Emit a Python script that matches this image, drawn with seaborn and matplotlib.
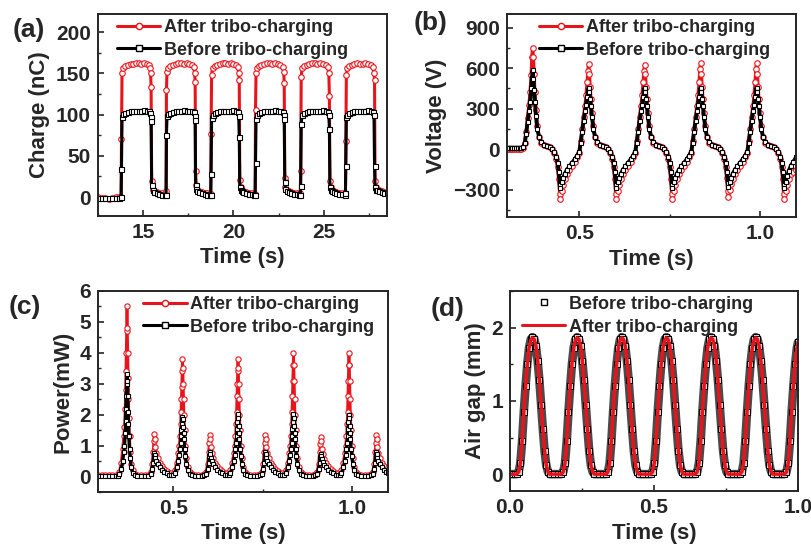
import matplotlib
matplotlib.use("Agg")
import matplotlib.pyplot as plt
import seaborn as sns
import pandas as pd
from matplotlib.lines import Line2D
from matplotlib.ticker import MultipleLocator, FormatStrFormatter

# ---------------- data ----------------
# (a) transferred charge vs time
t_a = [12.5, 12.7, 12.9, 13.1, 13.3, 13.5, 13.65,
       13.78, 13.80, 13.83, 13.88, 14.0, 14.15, 14.3, 14.45, 14.6, 14.75, 14.9, 15.05, 15.2, 15.32, 15.38, 15.41, 15.44, 15.47, 15.52, 15.6, 15.75, 15.9, 16.05, 16.2,
       16.27, 16.29, 16.32, 16.37, 16.5, 16.65, 16.8, 16.95, 17.1, 17.25, 17.4, 17.55, 17.7, 17.8, 17.85, 17.88, 17.9, 17.94, 18.0, 18.1, 18.25, 18.4, 18.55, 18.7,
       18.74, 18.76, 18.79, 18.84, 18.95, 19.1, 19.25, 19.4, 19.55, 19.7, 19.85, 20.0, 20.15, 20.25, 20.29, 20.32, 20.35, 20.39, 20.45, 20.55, 20.7, 20.85, 21.0, 21.15,
       21.20, 21.22, 21.25, 21.3, 21.4, 21.55, 21.7, 21.85, 22.0, 22.15, 22.3, 22.45, 22.6, 22.72, 22.78, 22.81, 22.84, 22.88, 22.95, 23.05, 23.2, 23.35, 23.5, 23.65,
       23.70, 23.72, 23.75, 23.8, 23.9, 24.05, 24.2, 24.35, 24.5, 24.65, 24.8, 24.95, 25.1, 25.22, 25.28, 25.31, 25.34, 25.38, 25.45, 25.55, 25.7, 25.85, 26.0, 26.15,
       26.20, 26.22, 26.25, 26.3, 26.4, 26.55, 26.7, 26.85, 27.0, 27.15, 27.3, 27.45, 27.6, 27.72, 27.78, 27.81, 27.84, 27.88, 27.95, 28.05, 28.2, 28.35, 28.5]
q_after = [0, -1, -1, -2, -1, 0, 0,
           0, 70, 150, 157, 159, 160, 161, 161, 162, 162, 161, 162, 161, 160, 156, 150, 134, 20, 9, 7, 6, 5, 5, 4,
           7, 130, 152, 157, 159, 160, 161, 162, 162, 161, 162, 161, 160, 158, 150, 140, 32, 15, 9, 7, 6, 5, 5, 4,
           4, 77, 148, 156, 159, 160, 161, 162, 162, 161, 162, 161, 160, 158, 150, 142, 21, 12, 9, 7, 6, 5, 5, 4,
           4, 106, 150, 156, 159, 160, 161, 162, 162, 161, 162, 161, 160, 158, 152, 138, 23, 12, 9, 7, 6, 5, 5, 4,
           5, 31, 146, 156, 159, 160, 161, 162, 162, 161, 162, 161, 160, 158, 150, 122, 19, 12, 9, 7, 6, 5, 5, 4,
           5, 68, 148, 156, 159, 160, 161, 162, 161, 161, 162, 161, 160, 158, 150, 142, 19, 12, 9, 8, 7, 6, 5]
q_before = [-1, -1, -1, -1, -1, -1, -1,
            0, 34, 97, 101, 102, 103, 104, 104, 104, 104, 104, 105, 104, 104, 102, 97, 92, 15, 9, 6, 5, 4, 3, 2,
            2, 75, 98, 101, 102, 103, 104, 104, 104, 105, 104, 104, 104, 103, 98, 93, 15, 10, 7, 6, 5, 4, 3, 3,
            3, 28, 96, 100, 102, 103, 104, 104, 104, 104, 104, 105, 104, 103, 98, 73, 12, 9, 7, 6, 5, 4, 4, 3,
            3, 41, 95, 100, 102, 103, 104, 104, 104, 104, 105, 104, 104, 103, 100, 95, 18, 10, 7, 6, 5, 4, 4, 3,
            3, 13, 89, 100, 102, 103, 104, 104, 104, 104, 104, 105, 104, 103, 99, 83, 12, 9, 7, 6, 5, 4, 4, 3,
            5, 38, 97, 100, 102, 103, 104, 104, 104, 104, 104, 105, 104, 103, 99, 38, 12, 9, 8, 7, 6, 5, 5]

# (b) open-circuit voltage vs time
t_b = [0.300, 0.305, 0.310, 0.315, 0.320, 0.325, 0.330, 0.335, 0.340, 0.345,
       0.349, 0.353, 0.357, 0.361, 0.364, 0.367, 0.369, 0.371, 0.373, 0.375, 0.377, 0.380, 0.384, 0.389, 0.395, 0.402, 0.410, 0.418, 0.425, 0.431, 0.436, 0.440, 0.443, 0.446, 0.448, 0.451, 0.455, 0.460, 0.466, 0.473, 0.480, 0.487, 0.494, 0.500,
       0.504, 0.508, 0.512, 0.516, 0.519, 0.522, 0.524, 0.526, 0.528, 0.530, 0.532, 0.535, 0.539, 0.544, 0.550, 0.557, 0.565, 0.573, 0.580, 0.586, 0.591, 0.595, 0.598, 0.601, 0.603, 0.606, 0.610, 0.615, 0.621, 0.628, 0.635, 0.642, 0.649, 0.655,
       0.659, 0.663, 0.667, 0.671, 0.674, 0.677, 0.679, 0.681, 0.683, 0.685, 0.687, 0.690, 0.694, 0.699, 0.705, 0.712, 0.720, 0.728, 0.735, 0.741, 0.746, 0.750, 0.753, 0.756, 0.758, 0.761, 0.765, 0.770, 0.776, 0.783, 0.790, 0.797, 0.804, 0.810,
       0.814, 0.818, 0.822, 0.826, 0.829, 0.832, 0.834, 0.836, 0.838, 0.840, 0.842, 0.845, 0.849, 0.854, 0.860, 0.867, 0.875, 0.883, 0.890, 0.896, 0.901, 0.905, 0.908, 0.911, 0.913, 0.916, 0.920, 0.925, 0.931, 0.938, 0.945, 0.952, 0.959, 0.965,
       0.969, 0.973, 0.977, 0.981, 0.984, 0.987, 0.989, 0.991, 0.993, 0.995, 0.997, 1.000, 1.004, 1.009, 1.015, 1.022, 1.030, 1.038, 1.045, 1.051, 1.056, 1.060, 1.063, 1.066, 1.068, 1.071, 1.075, 1.080, 1.086, 1.093, 1.100]
v_after = [5, 5, 5, 5, 5, 5, 5, 5, 5, 10,
           50, 130, 230, 330, 420, 550, 680, 750, 680, 560, 420, 290, 170, 90, 50, 30, 22, 15, 0, -30, -70, -130, -220, -330, -370, -310, -260, -220, -185, -150, -120, -90, -60, -30,
           60, 150, 240, 320, 400, 500, 580, 632, 560, 460, 370, 270, 170, 90, 50, 30, 22, 15, 0, -30, -70, -130, -220, -330, -365, -310, -260, -220, -185, -150, -120, -90, -60, -30,
           60, 150, 240, 320, 400, 500, 580, 622, 560, 460, 370, 270, 170, 90, 50, 30, 22, 15, 0, -30, -70, -130, -220, -330, -370, -310, -260, -220, -185, -150, -120, -90, -60, -30,
           60, 150, 240, 320, 400, 500, 590, 636, 560, 460, 370, 270, 170, 90, 50, 30, 22, 15, 0, -30, -70, -130, -210, -310, -355, -300, -255, -220, -185, -150, -120, -90, -60, -30,
           60, 150, 240, 320, 400, 500, 590, 636, 560, 460, 370, 270, 170, 90, 50, 30, 22, 15, 0, -30, -70, -130, -220, -330, -370, -310, -260, -220, -185, -165, -150]
v_before = [12, 12, 12, 12, 12, 12, 12, 12, 12, 15,
            45, 115, 200, 280, 350, 450, 530, 585, 520, 440, 350, 250, 150, 90, 55, 35, 28, 20, 5, -20, -55, -100, -170, -260, -285, -245, -215, -180, -150, -125, -100, -75, -50, -20,
            50, 130, 210, 280, 330, 390, 430, 453, 420, 370, 320, 240, 150, 90, 55, 35, 28, 20, 5, -20, -55, -100, -170, -260, -283, -245, -215, -180, -150, -125, -100, -75, -50, -20,
            50, 130, 210, 280, 330, 390, 440, 455, 420, 370, 320, 240, 150, 90, 55, 35, 28, 20, 5, -20, -55, -100, -170, -260, -285, -245, -215, -180, -150, -125, -100, -75, -50, -20,
            50, 130, 210, 280, 330, 390, 440, 455, 420, 370, 320, 240, 150, 90, 55, 35, 28, 20, 5, -20, -55, -100, -165, -250, -278, -240, -210, -180, -150, -125, -100, -75, -50, -20,
            50, 130, 210, 280, 330, 390, 440, 455, 420, 370, 320, 240, 150, 90, 55, 35, 28, 20, 5, -20, -55, -100, -170, -260, -285, -245, -200, -160, -120, -90, -60]

# (c) output power vs time
t_c = [0.29, 0.30, 0.31, 0.32, 0.33, 0.34, 0.345,
       0.350, 0.355, 0.359, 0.362, 0.364, 0.366, 0.367, 0.368, 0.369, 0.370, 0.371, 0.372, 0.373, 0.374, 0.375, 0.376, 0.378, 0.380, 0.383, 0.387, 0.393, 0.400, 0.410, 0.420, 0.430, 0.437,
       0.441, 0.444, 0.446, 0.447, 0.448, 0.450, 0.453, 0.457, 0.462, 0.468, 0.475, 0.482, 0.489, 0.495,
       0.500, 0.505, 0.510, 0.514, 0.517, 0.519, 0.521, 0.522, 0.523, 0.524, 0.525, 0.526, 0.527, 0.528, 0.529, 0.530, 0.532, 0.534, 0.537, 0.541, 0.546, 0.552, 0.560, 0.570, 0.580, 0.587, 0.592,
       0.596, 0.599, 0.601, 0.602, 0.603, 0.605, 0.608, 0.612, 0.617, 0.623, 0.630, 0.637, 0.644, 0.650,
       0.655, 0.660, 0.665, 0.669, 0.672, 0.674, 0.676, 0.677, 0.678, 0.679, 0.680, 0.681, 0.682, 0.683, 0.684, 0.685, 0.687, 0.689, 0.692, 0.696, 0.701, 0.707, 0.715, 0.725, 0.735, 0.742, 0.747,
       0.751, 0.754, 0.756, 0.757, 0.758, 0.760, 0.763, 0.767, 0.772, 0.778, 0.785, 0.792, 0.799, 0.805,
       0.810, 0.815, 0.820, 0.824, 0.827, 0.829, 0.831, 0.832, 0.833, 0.834, 0.835, 0.836, 0.837, 0.838, 0.839, 0.840, 0.842, 0.844, 0.847, 0.851, 0.856, 0.862, 0.870, 0.880, 0.890, 0.897, 0.902,
       0.906, 0.909, 0.911, 0.912, 0.913, 0.915, 0.918, 0.922, 0.927, 0.933, 0.940, 0.947, 0.954, 0.960,
       0.965, 0.970, 0.975, 0.979, 0.982, 0.984, 0.986, 0.987, 0.988, 0.989, 0.990, 0.991, 0.992, 0.993, 0.994, 0.995, 0.997, 0.999, 1.002, 1.006, 1.011, 1.017, 1.025, 1.035, 1.045, 1.052, 1.057,
       1.061, 1.064, 1.066, 1.067, 1.068, 1.070, 1.073, 1.077, 1.082, 1.088, 1.095, 1.100]
p_after = [0.05, 0.05, 0.05, 0.05, 0.05, 0.05, 0.05,
           0.15, 0.45, 0.9, 1.3, 1.6, 2.2, 2.8, 3.4, 4.0, 4.7, 5.5, 4.8, 4.0, 3.2, 2.5, 1.9, 1.3, 0.8, 0.4, 0.2, 0.08, 0.05, 0.05, 0.05, 0.06, 0.15,
           0.4, 0.8, 1.15, 1.39, 1.2, 0.95, 0.75, 0.6, 0.45, 0.35, 0.25, 0.18, 0.12, 0.1,
           0.08, 0.2, 0.45, 0.75, 1.0, 1.3, 1.7, 2.1, 2.5, 2.9, 3.4, 3.8, 3.5, 3.0, 2.5, 2.0, 1.5, 1.0, 0.6, 0.3, 0.15, 0.08, 0.05, 0.05, 0.05, 0.08, 0.15,
           0.4, 0.8, 1.1, 1.35, 1.2, 0.95, 0.75, 0.6, 0.45, 0.35, 0.25, 0.18, 0.12, 0.1,
           0.08, 0.2, 0.45, 0.75, 1.0, 1.3, 1.7, 2.1, 2.6, 3.0, 3.4, 3.8, 3.5, 3.0, 2.5, 2.0, 1.5, 1.0, 0.6, 0.3, 0.15, 0.08, 0.05, 0.05, 0.05, 0.08, 0.15,
           0.4, 0.8, 1.1, 1.35, 1.2, 0.95, 0.75, 0.6, 0.45, 0.35, 0.25, 0.18, 0.12, 0.1,
           0.08, 0.2, 0.45, 0.75, 1.0, 1.3, 1.7, 2.1, 2.6, 3.1, 3.6, 4.0, 3.6, 3.1, 2.5, 2.0, 1.5, 1.0, 0.6, 0.3, 0.15, 0.08, 0.05, 0.05, 0.05, 0.08, 0.15,
           0.4, 0.8, 1.05, 1.28, 1.15, 0.9, 0.72, 0.58, 0.45, 0.35, 0.25, 0.18, 0.12, 0.1,
           0.08, 0.2, 0.45, 0.75, 1.0, 1.3, 1.7, 2.1, 2.6, 3.1, 3.6, 4.0, 3.6, 3.1, 2.5, 2.0, 1.5, 1.0, 0.6, 0.3, 0.15, 0.08, 0.05, 0.05, 0.05, 0.08, 0.15,
           0.4, 0.8, 1.1, 1.35, 1.2, 0.95, 0.75, 0.6, 0.45, 0.35, 0.25, 0.2]
p_before = [0.02, 0.02, 0.02, 0.02, 0.02, 0.02, 0.02,
            0.08, 0.25, 0.5, 0.8, 1.0, 1.4, 1.8, 2.2, 2.6, 3.0, 3.3, 3.1, 2.6, 2.1, 1.7, 1.3, 0.9, 0.6, 0.3, 0.12, 0.05, 0.02, 0.02, 0.02, 0.03, 0.08,
            0.25, 0.45, 0.65, 0.75, 0.7, 0.6, 0.5, 0.4, 0.3, 0.22, 0.15, 0.1, 0.06, 0.05,
            0.04, 0.12, 0.3, 0.5, 0.7, 0.9, 1.1, 1.3, 1.5, 1.7, 1.85, 1.93, 1.85, 1.6, 1.4, 1.2, 0.9, 0.65, 0.4, 0.2, 0.08, 0.04, 0.02, 0.02, 0.02, 0.04, 0.08,
            0.25, 0.45, 0.65, 0.78, 0.72, 0.6, 0.5, 0.4, 0.3, 0.22, 0.15, 0.1, 0.06, 0.05,
            0.04, 0.12, 0.3, 0.5, 0.7, 0.9, 1.1, 1.3, 1.55, 1.75, 1.9, 2.02, 1.9, 1.65, 1.4, 1.2, 0.9, 0.65, 0.4, 0.2, 0.08, 0.04, 0.02, 0.02, 0.02, 0.04, 0.08,
            0.25, 0.45, 0.65, 0.78, 0.72, 0.6, 0.5, 0.4, 0.3, 0.22, 0.15, 0.1, 0.06, 0.05,
            0.04, 0.12, 0.3, 0.5, 0.7, 0.9, 1.1, 1.3, 1.55, 1.75, 1.9, 2.02, 1.9, 1.65, 1.4, 1.2, 0.9, 0.65, 0.4, 0.2, 0.08, 0.04, 0.02, 0.02, 0.02, 0.04, 0.08,
            0.25, 0.45, 0.62, 0.72, 0.68, 0.58, 0.48, 0.38, 0.3, 0.22, 0.15, 0.1, 0.06, 0.05,
            0.04, 0.12, 0.3, 0.5, 0.7, 0.9, 1.1, 1.3, 1.55, 1.75, 1.9, 2.0, 1.9, 1.65, 1.4, 1.2, 0.9, 0.65, 0.4, 0.2, 0.08, 0.04, 0.02, 0.02, 0.02, 0.04, 0.08,
            0.25, 0.45, 0.65, 0.8, 0.72, 0.6, 0.5, 0.4, 0.3, 0.22, 0.15, 0.12]

# (d) air gap vs time
t_d = [0.000, 0.008, 0.016,
       0.023, 0.030, 0.036, 0.042, 0.048, 0.054, 0.060, 0.066, 0.072, 0.078, 0.084, 0.090, 0.096, 0.102, 0.108, 0.114, 0.120, 0.126, 0.132, 0.138, 0.153, 0.168,
       0.178, 0.185, 0.191, 0.197, 0.203, 0.209, 0.215, 0.221, 0.227, 0.233, 0.239, 0.245, 0.251, 0.257, 0.263, 0.269, 0.275, 0.281, 0.287, 0.293, 0.308, 0.323,
       0.333, 0.340, 0.346, 0.352, 0.358, 0.364, 0.370, 0.376, 0.382, 0.388, 0.394, 0.400, 0.406, 0.412, 0.418, 0.424, 0.430, 0.436, 0.442, 0.448, 0.463, 0.478,
       0.488, 0.495, 0.501, 0.507, 0.513, 0.519, 0.525, 0.531, 0.537, 0.543, 0.549, 0.555, 0.561, 0.567, 0.573, 0.579, 0.585, 0.591, 0.597, 0.603, 0.618, 0.633,
       0.643, 0.650, 0.656, 0.662, 0.668, 0.674, 0.680, 0.686, 0.692, 0.698, 0.704, 0.710, 0.716, 0.722, 0.728, 0.734, 0.740, 0.746, 0.752, 0.758, 0.773, 0.788,
       0.798, 0.805, 0.811, 0.817, 0.823, 0.829, 0.835, 0.841, 0.847, 0.853, 0.859, 0.865, 0.871, 0.877, 0.883, 0.889, 0.895, 0.901, 0.907, 0.913, 0.928, 0.943,
       0.953, 0.960, 0.966, 0.972, 0.978, 0.984, 0.990, 0.996, 1.000]
gap_before = [0.0, 0.0, 0.0,
              0.0, 0.03, 0.15, 0.45, 0.85, 1.2, 1.5, 1.72, 1.84, 1.87, 1.85, 1.75, 1.55, 1.28, 0.95, 0.62, 0.32, 0.12, 0.03, 0.0, 0.0, 0.0,
              0.0, 0.03, 0.15, 0.45, 0.85, 1.2, 1.5, 1.72, 1.84, 1.87, 1.85, 1.75, 1.55, 1.28, 0.95, 0.62, 0.32, 0.12, 0.03, 0.0, 0.0, 0.0,
              0.0, 0.03, 0.15, 0.45, 0.85, 1.2, 1.5, 1.72, 1.84, 1.87, 1.85, 1.75, 1.55, 1.28, 0.95, 0.62, 0.32, 0.12, 0.03, 0.0, 0.0, 0.0,
              0.0, 0.03, 0.15, 0.45, 0.85, 1.2, 1.5, 1.72, 1.84, 1.87, 1.85, 1.75, 1.55, 1.28, 0.95, 0.62, 0.32, 0.12, 0.03, 0.0, 0.0, 0.0,
              0.0, 0.03, 0.15, 0.45, 0.85, 1.2, 1.5, 1.72, 1.84, 1.87, 1.85, 1.75, 1.55, 1.28, 0.95, 0.62, 0.32, 0.12, 0.03, 0.0, 0.0, 0.0,
              0.0, 0.03, 0.15, 0.45, 0.85, 1.2, 1.5, 1.72, 1.84, 1.87, 1.85, 1.75, 1.55, 1.28, 0.95, 0.62, 0.32, 0.12, 0.03, 0.0, 0.0, 0.0,
              0.0, 0.03, 0.15, 0.45, 0.85, 1.2, 1.5, 1.72, 1.80]
gap_after = [0.0, 0.0, 0.0,
             0.0, 0.03, 0.15, 0.45, 0.85, 1.2, 1.5, 1.72, 1.83, 1.86, 1.84, 1.75, 1.55, 1.28, 0.95, 0.62, 0.32, 0.12, 0.03, 0.0, 0.0, 0.0,
             0.0, 0.03, 0.15, 0.45, 0.85, 1.2, 1.5, 1.72, 1.83, 1.86, 1.84, 1.75, 1.55, 1.28, 0.95, 0.62, 0.32, 0.12, 0.03, 0.0, 0.0, 0.0,
             0.0, 0.03, 0.15, 0.45, 0.85, 1.2, 1.5, 1.72, 1.83, 1.86, 1.84, 1.75, 1.55, 1.28, 0.95, 0.62, 0.32, 0.12, 0.03, 0.0, 0.0, 0.0,
             0.0, 0.03, 0.15, 0.45, 0.85, 1.2, 1.5, 1.72, 1.83, 1.86, 1.84, 1.75, 1.55, 1.28, 0.95, 0.62, 0.32, 0.12, 0.03, 0.0, 0.0, 0.0,
             0.0, 0.03, 0.15, 0.45, 0.85, 1.2, 1.5, 1.72, 1.83, 1.86, 1.84, 1.75, 1.55, 1.28, 0.95, 0.62, 0.32, 0.12, 0.03, 0.0, 0.0, 0.0,
             0.0, 0.03, 0.15, 0.45, 0.85, 1.2, 1.5, 1.72, 1.83, 1.86, 1.84, 1.75, 1.55, 1.28, 0.95, 0.62, 0.32, 0.12, 0.03, 0.0, 0.0, 0.0,
             0.0, 0.03, 0.15, 0.45, 0.85, 1.2, 1.5, 1.72, 1.80]

label_after = "After tribo-charging"
label_before = "Before tribo-charging"

# ---------------- style ----------------
sns.set_style("ticks")
plt.rcParams.update({
    "font.family": ["Liberation Sans", "DejaVu Sans"],
    "font.weight": "bold",
    "axes.labelweight": "bold",
    "axes.linewidth": 1.4,
    "xtick.direction": "in",
    "ytick.direction": "in",
    "xtick.major.size": 4.5,
    "ytick.major.size": 4.5,
    "xtick.minor.size": 2.5,
    "ytick.minor.size": 2.5,
    "xtick.major.width": 1.2,
    "ytick.major.width": 1.2,
    "xtick.minor.width": 1.0,
    "ytick.minor.width": 1.0,
    "xtick.labelsize": 15,
    "ytick.labelsize": 15,
    "axes.labelsize": 16,
})

fig = plt.figure(figsize=(8.12, 5.5), dpi=100)
W, H = 812.0, 550.0


def add_ax(left, top, right, bottom):
    return fig.add_axes([left / W, 1 - bottom / H, (right - left) / W, (bottom - top) / H])


ax_a = add_ax(98, 14, 387, 216)
ax_b = add_ax(507, 14, 796, 217)
ax_c = add_ax(98, 291, 388, 492)
ax_d = add_ax(510, 291, 798, 491)

red = "#e8141b"
common = dict(estimator=None, sort=False, legend=False)


def red_circles(ax, x, y, ms=3.8, lw=2.0):
    sns.lineplot(x=x, y=y, ax=ax, color=red, linewidth=lw, marker="o", markersize=ms,
                 markerfacecolor="white", markeredgecolor=red, markeredgewidth=0.8, **common)


def black_squares(ax, x, y, ms=3.4, lw=2.4):
    sns.lineplot(x=x, y=y, ax=ax, color="black", linewidth=lw, marker="s", markersize=ms,
                 markerfacecolor="white", markeredgecolor="black", markeredgewidth=0.8, **common)


# (a)
red_circles(ax_a, t_a, q_after, ms=4.0, lw=2.2)
black_squares(ax_a, t_a, q_before, ms=3.6, lw=2.2)
ax_a.set_xlim(12.5, 28.5)
ax_a.set_ylim(-23, 222)
ax_a.set_xticks([15, 20, 25])
ax_a.set_yticks([0, 50, 100, 150, 200])
ax_a.xaxis.set_minor_locator(MultipleLocator(2.5))
ax_a.yaxis.set_minor_locator(MultipleLocator(25))
ax_a.set_xlabel("Time (s)")
ax_a.set_ylabel("Charge (nC)")

# (b)
red_circles(ax_b, t_b, v_after, ms=4.0, lw=2.4)
black_squares(ax_b, t_b, v_before, ms=3.4, lw=2.8)
ax_b.set_xlim(0.3, 1.1)
ax_b.set_ylim(-500, 1000)
ax_b.set_xticks([0.5, 1.0])
ax_b.set_yticks([-300, 0, 300, 600, 900])
ax_b.xaxis.set_minor_locator(MultipleLocator(0.25))
ax_b.yaxis.set_minor_locator(MultipleLocator(150))
ax_b.xaxis.set_major_formatter(FormatStrFormatter("%.1f"))
ax_b.set_xlabel("Time (s)")
ax_b.set_ylabel("Voltage (V)")

# (c)
red_circles(ax_c, t_c, p_after, ms=3.8, lw=2.0)
black_squares(ax_c, t_c, p_before, ms=3.4, lw=2.4)
ax_c.set_xlim(0.29, 1.1)
ax_c.set_ylim(-0.5, 6.0)
ax_c.set_xticks([0.5, 1.0])
ax_c.set_yticks([0, 1, 2, 3, 4, 5, 6])
ax_c.xaxis.set_minor_locator(MultipleLocator(0.25))
ax_c.yaxis.set_minor_locator(MultipleLocator(0.5))
ax_c.xaxis.set_major_formatter(FormatStrFormatter("%.1f"))
ax_c.set_xlabel("Time (s)")
ax_c.set_ylabel("Power(mW)")

# (d)
sns.lineplot(x=t_d, y=gap_before, ax=ax_d, color="#4a4a4a", linewidth=6.2, marker="s", markersize=4.0,
             markerfacecolor="#cfcfcf", markeredgecolor="black", markeredgewidth=0.7, **common)
sns.lineplot(x=t_d, y=gap_after, ax=ax_d, color=red, linewidth=2.5, **common)
ax_d.set_xlim(0.0, 1.0)
ax_d.set_ylim(-0.23, 2.5)
ax_d.set_xticks([0.0, 0.5, 1.0])
ax_d.set_yticks([0, 1, 2])
ax_d.xaxis.set_minor_locator(MultipleLocator(0.25))
ax_d.yaxis.set_minor_locator(MultipleLocator(0.5))
ax_d.xaxis.set_major_formatter(FormatStrFormatter("%.1f"))
ax_d.set_xlabel("Time (s)")
ax_d.set_ylabel("Air gap (mm)")

for ax in (ax_a, ax_b, ax_c, ax_d):
    for s in ax.spines.values():
        s.set_visible(True)
        s.set_linewidth(1.4)
    ax.tick_params(which="both", top=False, right=False, pad=5)
    for lab in ax.get_xticklabels() + ax.get_yticklabels():
        lab.set_fontweight("bold")

# legends
h_after = Line2D([], [], color=red, linewidth=2.2, marker="o", markersize=4.5,
                 markerfacecolor="white", markeredgecolor=red, markeredgewidth=1.0)
h_before = Line2D([], [], color="black", linewidth=2.2, marker="s", markersize=4.5,
                  markerfacecolor="white", markeredgecolor="black", markeredgewidth=1.0)
leg_kw = dict(frameon=False, loc="upper left", handlelength=2.4,
              handletextpad=0.2, labelspacing=0.32, borderpad=0.1, borderaxespad=0.0,
              prop={"weight": "bold", "size": 13})
ax_a.legend([h_after, h_before], [label_after, label_before], bbox_to_anchor=(0.06, 0.985), **leg_kw)
ax_b.legend([h_after, h_before], [label_after, label_before], bbox_to_anchor=(0.105, 0.985), **leg_kw)
ax_c.legend([h_after, h_before], [label_after, label_before], bbox_to_anchor=(0.15, 0.985), **leg_kw)
h_sq = Line2D([], [], linestyle="none", marker="s", markersize=4.5, markerfacecolor="white",
              markeredgecolor="black", markeredgewidth=1.0)
h_line = Line2D([], [], color=red, linewidth=2.2)
ax_d.legend([h_sq, h_line], [label_before, label_after], bbox_to_anchor=(0.035, 0.985), **leg_kw)

# panel labels
for txt, x, y in (("(a)", 13, 30), ("(b)", 414, 23), ("(c)", 9, 307), ("(d)", 431, 309)):
    fig.text(x / W, 1 - y / H, txt, fontsize=19, fontweight="bold", ha="left", va="center")

fig.savefig("out.png", dpi=100)
